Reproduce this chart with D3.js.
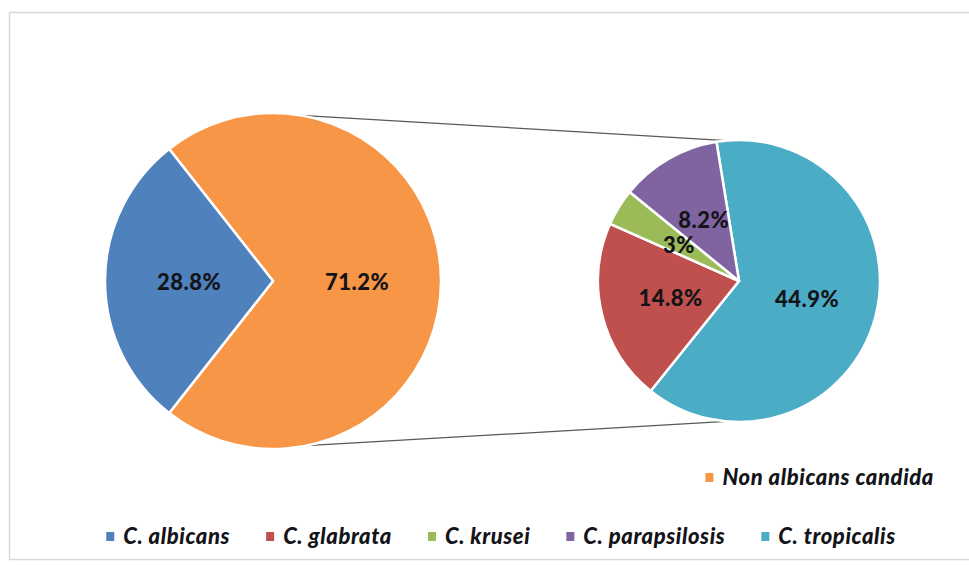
<!DOCTYPE html>
<html>
<head>
<meta charset="utf-8">
<script src="https://cdn.jsdelivr.net/npm/d3@7"></script>
<style>
  html, body { margin: 0; padding: 0; background: #ffffff; }
  svg { display: block; }
</style>
</head>
<body>
<svg id="chart" width="969" height="565"></svg>
<script>
// ---- data ----
const mainCategories = ["Non albicans candida", "C. albicans"];
const mainValues = [71.2, 28.8];
const subCategories = ["C. tropicalis", "C. glabrata", "C. krusei", "C. parapsilosis"];
const subValues = [44.9, 14.8, 3, 8.2];
const legendTop = ["Non albicans candida"];
const legendBottom = ["C. albicans", "C. glabrata", "C. krusei", "C. parapsilosis", "C. tropicalis"];
const colorNames = ["Non albicans candida", "C. albicans", "C. glabrata", "C. krusei", "C. parapsilosis", "C. tropicalis"];
const colorValues = ["#F79646", "#4F81BD", "#C0504D", "#9BBB59", "#8064A2", "#4BACC6"];

// ---- setup ----
const svg = d3.select("#chart");
const W = 969, H = 565;
const color = d3.scaleOrdinal().domain(colorNames).range(colorValues);
const deg = Math.PI / 180;

// chart frame
svg.append("rect")
  .attr("x", 9.5).attr("y", 12.5)
  .attr("width", W + 10).attr("height", 547)
  .attr("fill", "#ffffff")
  .attr("stroke", "#d9d9d9").attr("stroke-width", 1.5);

const labelFont = "Lato, 'Open Sans', sans-serif";

// ---- main pie ----
const mainC = { x: 273, y: 281 }, mainR = 168;
const mainTotal = d3.sum(mainValues);
const otherShare = mainValues[0] / mainTotal;
const mainStart = Math.PI / 2 - otherShare * Math.PI; // "other" slice centred to the right
const mainPie = d3.pie().sort(null).value(d => d.v)
  .startAngle(mainStart).endAngle(mainStart + 2 * Math.PI);
const mainData = mainPie(mainCategories.map((c, i) => ({ c, v: mainValues[i] })));
const mainArc = d3.arc().innerRadius(0).outerRadius(mainR);

// ---- sub pie ----
const subC = { x: 739, y: 281 }, subR = 141;
const subStart = -9.2 * deg;
const subPie = d3.pie().sort(null).value(d => d.v)
  .startAngle(subStart).endAngle(subStart + 2 * Math.PI);
const subData = subPie(subCategories.map((c, i) => ({ c, v: subValues[i] })));
const subArc = d3.arc().innerRadius(0).outerRadius(subR);

// ---- connector lines ----
function onCircle(c, r, a) { return [c.x + r * Math.sin(a), c.y - r * Math.cos(a)]; }
const connectors = [
  [onCircle(mainC, mainR, 9.5 * deg), onCircle(subC, subR, -5 * deg)],
  [onCircle(mainC, mainR, 168.5 * deg), onCircle(subC, subR, 185 * deg)]
];
svg.selectAll("line.conn").data(connectors).join("line")
  .attr("class", "conn")
  .attr("x1", d => d[0][0]).attr("y1", d => d[0][1])
  .attr("x2", d => d[1][0]).attr("y2", d => d[1][1])
  .attr("stroke", "#595959").attr("stroke-width", 1.3);

// ---- draw pies ----
const gMain = svg.append("g").attr("transform", `translate(${mainC.x},${mainC.y})`);
gMain.selectAll("path").data(mainData).join("path")
  .attr("d", mainArc)
  .attr("fill", d => color(d.data.c))
  .attr("stroke", "#ffffff").attr("stroke-width", 2.5).attr("stroke-linejoin", "round");

const gSub = svg.append("g").attr("transform", `translate(${subC.x},${subC.y})`);
gSub.selectAll("path").data(subData).join("path")
  .attr("d", subArc)
  .attr("fill", d => color(d.data.c))
  .attr("stroke", "#ffffff").attr("stroke-width", 2.5).attr("stroke-linejoin", "round");

const fmt = v => v + "%";
const labelSize = 22;
gMain.selectAll("text").data(mainData).join("text")
  .attr("x", d => mainArc.centroid(d)[0])
  .attr("y", d => mainArc.centroid(d)[1])
  .attr("text-anchor", "middle").attr("dominant-baseline", "central")
  .attr("font-family", labelFont).attr("font-weight", 900).attr("font-size", labelSize)
  .attr("letter-spacing", 0.5)
  .attr("fill", "#141418")
  .text(d => fmt(d.data.v));

gSub.selectAll("text").data(subData).join("text")
  .attr("x", d => subArc.centroid(d)[0])
  .attr("y", d => subArc.centroid(d)[1])
  .attr("text-anchor", "middle").attr("dominant-baseline", "central")
  .attr("font-family", labelFont).attr("font-weight", 900).attr("font-size", labelSize)
  .attr("letter-spacing", 0.5)
  .attr("fill", "#141418")
  .text(d => fmt(d.data.v));

// ---- legends ----
const legFont = 22, legSpacing = 0.6, sq = 8, gap = 9, spacing = 36;
function styleLeg(sel) {
  return sel.attr("font-family", labelFont).attr("font-weight", 900)
    .attr("font-style", "italic").attr("font-size", legFont)
    .attr("letter-spacing", legSpacing);
}
function measure(t) {
  const tmp = styleLeg(svg.append("text")).text(t);
  const w = tmp.node().getComputedTextLength();
  tmp.remove();
  return w;
}
function drawLegend(items, startX, baseline) {
  let x = startX;
  const g = svg.append("g");
  items.forEach(t => {
    g.append("rect").attr("x", x).attr("y", baseline - 12).attr("width", sq).attr("height", sq + 1)
      .attr("fill", color(t));
    styleLeg(g.append("text")).attr("x", x + sq + gap).attr("y", baseline)
      .attr("fill", "#141418").text(t);
    x += sq + gap + measure(t) + spacing;
  });
}
// top legend: right aligned at x = 934
const topW = sq + gap + measure(legendTop[0]);
drawLegend(legendTop, 934 - topW, 485);
// bottom legend: centred around x = 501
const botW = d3.sum(legendBottom, t => sq + gap + measure(t)) + spacing * (legendBottom.length - 1);
drawLegend(legendBottom, 501 - botW / 2, 544);
</script>
</body>
</html>
